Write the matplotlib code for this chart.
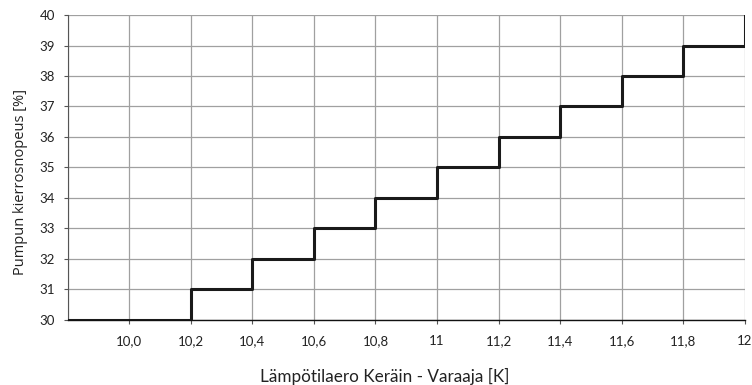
import matplotlib
matplotlib.use("Agg")
import matplotlib.pyplot as plt
import numpy as np

x_steps = [9.8, 10.2, 10.4, 10.6, 10.8, 11.0, 11.2, 11.4, 11.6, 11.8, 12.0]
speed = [30, 31, 32, 33, 34, 35, 36, 37, 38, 39, 40]
x_ticks = [10.0, 10.2, 10.4, 10.6, 10.8, 11.0, 11.2, 11.4, 11.6, 11.8, 12.0]
x_tick_labels = ["10,0", "10,2", "10,4", "10,6", "10,8", "11", "11,2", "11,4", "11,6", "11,8", "12"]
y_ticks = list(range(30, 41))

plt.rcParams['font.family'] = ['Lato', 'DejaVu Sans']

W, H = 752, 385
fig = plt.figure(figsize=(W / 100, H / 100), dpi=100)
ax = fig.add_axes([0.0898, 0.169, 0.9009, 0.792])

for xv in [9.8] + x_ticks:
    ax.axvline(xv, color='#a0a0a0', lw=0.9, zorder=1)
for yv in y_ticks:
    ax.axhline(yv, color='#a0a0a0', lw=0.9, zorder=1)

ax.step(x_steps, speed, where='post', color='#1a1a1a', lw=2.2, zorder=3)

ax.set_xlim(9.8, 12.0)
ax.set_ylim(30, 40)
ax.set_xticks(x_ticks)
ax.set_xticklabels(x_tick_labels, fontsize=9.5, color='#222222')
ax.set_yticks(y_ticks)
ax.set_yticklabels([str(v) for v in y_ticks], fontsize=9.5, color='#222222')
ax.tick_params(axis='both', direction='out', length=3, width=0.8, color='#555555')
ax.tick_params(axis='x', pad=8)
ax.tick_params(axis='y', pad=6)

for s in ['top', 'right']:
    ax.spines[s].set_visible(False)
ax.spines['left'].set_color('#555555')
ax.spines['bottom'].set_color('#111111')
ax.spines['bottom'].set_linewidth(1.0)

fig.text(385 / W, 1 - 376 / H, "Lämpötilaero Keräin - Varaaja [K]", fontsize=12.3,
         color='#222222', ha='center', va='center')
fig.text(21 / W, 1 - 182 / H, "Pumpun kierrosnopeus [%]", fontsize=10.5, color='#222222',
         rotation=90, ha='center', va='center', family=['Open Sans', 'DejaVu Sans'])

fig.savefig("out.png", dpi=100)
